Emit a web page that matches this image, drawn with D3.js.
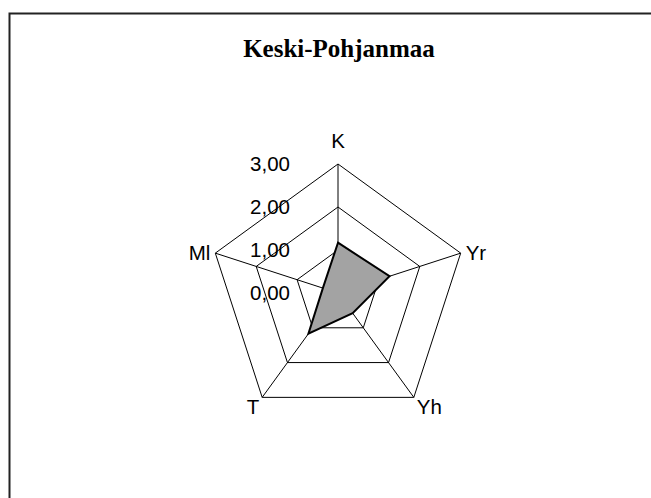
<!DOCTYPE html>
<html>
<head>
<meta charset="utf-8">
<script src="https://cdn.jsdelivr.net/npm/d3@7"></script>
<style>
  body { margin: 0; background: #fff; }
  svg { display: block; }
</style>
</head>
<body>
<div id="chart"></div>
<script>
// Radar chart - Keski-Pohjanmaa

// Data
const axes = ["K", "Yr", "Yh", "T", "Ml"];
const values = [1.17, 1.26, 0.58, 1.17, 0.37];
const tickValues = [0, 1, 2, 3];
const tickLabels = ["0,00", "1,00", "2,00", "3,00"];
const title = "Keski-Pohjanmaa";

// Dimensions
const width = 651, height = 498;
const cx = 338, cy = 293, radius = 129;

const svg = d3.select("#chart")
  .append("svg")
    .attr("width", width)
    .attr("height", height);

// Frame (open on the right and bottom)
svg.append("path")
  .attr("d", `M9.5,${height} L9.5,13.5 L${width},13.5`)
  .attr("fill", "none")
  .attr("stroke", "#222")
  .attr("stroke-width", 2);

// Title
svg.append("text")
  .attr("x", cx + 1)
  .attr("y", 57)
  .attr("text-anchor", "middle")
  .style("font-family", "'Liberation Serif', 'DejaVu Serif', serif")
  .style("font-weight", "bold")
  .style("font-size", "25px")
  .text(title);

// Scales
const r = d3.scaleLinear().domain([0, 3]).range([0, radius]);
const angle = d3.scalePoint().domain(axes).range([0, 2 * Math.PI * (axes.length - 1) / axes.length]);

function point(axis, v) {
  const a = angle(axis);
  return [cx + r(v) * Math.sin(a), cy - r(v) * Math.cos(a)];
}

const g = svg.append("g");

// Grid pentagons
tickValues.filter(t => t > 0).forEach(t => {
  g.append("path")
    .attr("d", d3.line()(axes.map(a => point(a, t))) + "Z")
    .attr("fill", "none")
    .attr("stroke", "#000")
    .attr("stroke-width", 1);
});

// Spokes
axes.forEach(a => {
  const p = point(a, 3);
  g.append("line")
    .attr("x1", cx).attr("y1", cy)
    .attr("x2", p[0]).attr("y2", p[1])
    .attr("stroke", "#000")
    .attr("stroke-width", 1);
});

// Data polygon
g.append("path")
  .attr("d", d3.line()(axes.map((a, i) => point(a, values[i]))) + "Z")
  .attr("fill", "#a3a3a3")
  .attr("stroke", "#000")
  .attr("stroke-width", 2)
  .attr("stroke-linejoin", "miter");

// Tick labels
g.selectAll(".tick-label")
  .data(tickValues)
  .enter()
  .append("text")
    .attr("class", "tick-label")
    .attr("x", cx - 48)
    .attr("y", d => cy - r(d))
    .attr("dy", "0.35em")
    .attr("text-anchor", "end")
    .style("font-family", "'Liberation Sans', Arial, sans-serif")
    .style("font-size", "20.5px")
    .text((d, i) => tickLabels[i]);

// Axis labels
const labelPos = {
  K:  {dx: 0,  dy: -23, anchor: "middle"},
  Yr: {dx: 5,  dy: 0,   anchor: "start"},
  Yh: {dx: 3,  dy: 9,   anchor: "start"},
  T:  {dx: -3, dy: 9,   anchor: "end"},
  Ml: {dx: -5, dy: 0,   anchor: "end"}
};
axes.forEach(a => {
  const p = point(a, 3);
  g.append("text")
    .attr("x", p[0] + labelPos[a].dx)
    .attr("y", p[1] + labelPos[a].dy)
    .attr("dy", "0.35em")
    .attr("text-anchor", labelPos[a].anchor)
    .style("font-family", "'Liberation Sans', Arial, sans-serif")
    .style("font-size", "20.5px")
    .text(a);
});
</script>
</body>
</html>
